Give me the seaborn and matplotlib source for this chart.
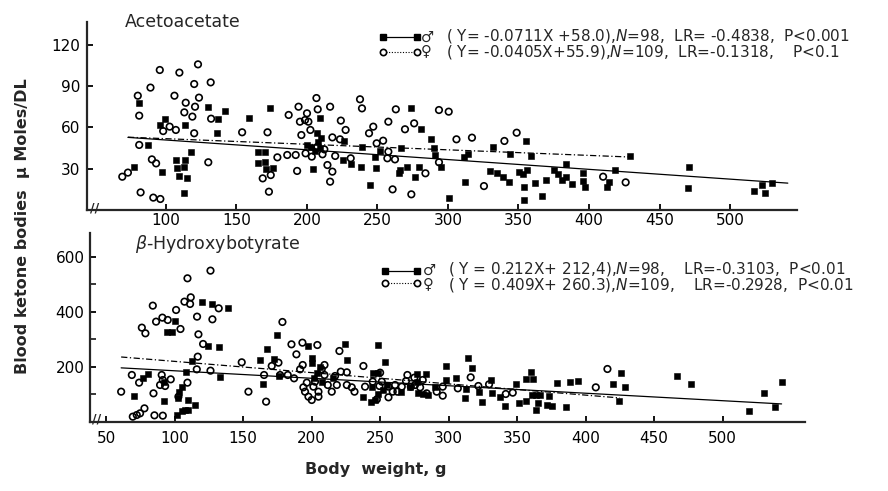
import matplotlib
matplotlib.use("Agg")
import matplotlib.pyplot as plt
import numpy as np
import pandas as pd
import seaborn as sns
from matplotlib.lines import Line2D

# Acetoacetate panel (body weight g, umol/dL)
aa_male_w = [77, 81, 87.5, 97, 96, 99, 107, 108, 113.5, 112.6, 109, 115, 113, 113.5, 118, 130, 137, 136, 142, 159,
             174, 165, 170, 165, 170, 171, 176, 204, 209, 207, 200, 203, 208, 210, 209, 206,
             226.5, 225.7, 231, 239, 238, 245, 252, 248, 249, 266.6, 265, 266, 271, 273.5, 279.6, 276.6, 281, 288,
             290, 291, 295, 301, 312, 311, 314, 332, 330, 334.5, 339, 343, 344, 355, 359, 350.6, 353.4, 356, 354,
             354, 362, 367, 369.5, 375, 378, 381,
             383.5, 384, 388, 396, 396, 397, 412.5, 414, 418.5, 429, 471, 470, 517, 522.5, 525, 530]
aa_male_v = [31.5, 77.6, 47.3, 27.9, 61.8, 66.2, 36.4, 30.8, 36.4, 31.5, 25, 23.5, 12.6, 61.8, 41.9, 74.7, 65.9, 55.8,
             72.2, 67.1, 73.9, 41.9, 41.9, 33.9, 34.7, 29.6, 30.3, 29.6, 67.1, 55.8, 47.3, 46, 49.7, 52.1, 44.8, 43.1,
             50.4, 36.4, 33.2, 46, 31, 18.2, 43.1, 38.3, 30.8, 45.3, 26.7, 29.1, 31, 73.9, 31, 24.2, 59.1, 51.9,
             45.3, 40, 31.5, 9, 20.6, 38.8, 40.5, 45.6, 28.3, 27.2, 24.2, 20.6, 40.7, 50.4, 39.3, 27.9, 26, 29.1, 17,
             7.3, 19.9, 10.4, 21.8, 29.1, 26.2, 21.8,
             33.4, 24.2, 18.9, 26.7, 21.3, 16.9, 16.9, 20.6, 29.1, 39.5, 31, 16.2, 13.8, 18.2, 12.1, 19.4]
aa_female_w = [69, 73, 80, 81, 81, 82, 89, 90, 93, 91, 96, 95.6, 98, 102.6, 107, 106, 109.5, 114, 113, 118.7, 120.6,
               123.4, 120, 122.7, 120, 131.7, 132, 130, 154, 172, 168.6, 174.3, 173, 179, 186, 192, 193, 187, 194,
               196, 195, 198.6, 200, 201, 202.4, 206.7, 207.6, 199, 203.4, 207.4, 211, 214.5, 216.4, 216.4, 212.3,
               224, 227.4, 218, 223.4, 220, 218, 231, 237.6, 239, 247, 244, 249.4, 254, 257.7, 263, 257.7, 257,
               262.4, 260.7, 269.5, 276, 274, 284, 293.6, 300.5, 293.6, 306, 317, 325.5, 340, 348.7, 410, 426]
aa_female_v = [24.2, 27.2, 83.1, 68.6, 47.3, 12.8, 89, 36.8, 33.9, 9, 8, 101.8, 57.4, 60.6, 58.2, 83.1, 99.9, 78, 71,
               67.9, 75.1, 81.7, 91.6, 105.9, 55.8, 92.8, 66.4, 34.7, 56.5, 56.5, 23, 25.4, 13.3, 38.3, 40, 40, 28.4,
               69.1, 75.1, 54.5, 64.2, 65.4, 70.3, 64.2, 58.2, 81.4, 73.2, 41.2, 38.8, 46, 40.5, 32.7, 20.6, 75.1,
               44.1, 65, 58.2, 52.8, 51.4, 39.3, 27.9, 37.6, 80.5, 73.9, 60.6, 55.8, 48.5, 50.4, 64.2, 73.2, 42.4,
               37.6, 36.8, 15, 58.7, 63, 11.4, 26.7, 72.7, 71.5, 34.7, 51.4, 52.6, 17.4, 50.2, 56.2, 24.2, 20.1]

# beta-Hydroxybutyrate panel
hb_male_w = [70.7, 77.3, 80.9, 92.4, 92.6, 94.3, 98.4, 100.4, 105.2, 103.5, 102.3, 101.6, 105.2, 107.7, 110.1, 110.1,
             115, 108.2, 112.5, 120.3, 127.4, 139.3, 124.2, 132.7, 133.2, 162.7, 164.8, 167.5, 175.1, 172.6, 176.3,
             197.7, 200.1, 200.6, 206.2, 203.8, 202.1, 207.4,
             224.4, 226.1, 215.9, 248.8, 253.6, 245.1, 248.1, 243.9, 248.1, 243.2, 246.3, 237.8, 254.8, 252.4, 265.3,
             276.7, 283.6, 276.7, 271.9, 278, 281.6, 285.3, 290.1, 298.1, 298.1, 305.4, 314.4, 317.4, 312.7, 312,
             324.7, 322.5, 331, 331.5, 337.6, 341.2, 349, 351.7, 356.3, 359.9, 356.5, 361.9, 360.7, 363.8, 366.7,
             365.5, 363.8, 371.6, 375.3, 373.6, 379.4,
             388.6, 394.2, 385.5, 419.8, 425.9, 428.8, 424.4, 467, 476.7, 519.5, 530.2, 538.2, 543.6]
hb_male_v = [94.7, 157.8, 172.3, 75.3, 145.6, 327.4, 325, 366.2, 127.4, 109.2, 85, 24.4, 40.2, 42.6, 42.6, 79, 60.8,
             182, 220.8, 434.1, 428.1, 412.3, 275.3, 272.9, 163.8, 224.4, 135.9, 263.2, 315.3, 226.8, 166.2, 275.3,
             230.5, 212.3, 200.2, 175.9, 157.8, 145.6,
             282.6, 224.4, 157.8, 279, 218.4, 178.3, 178.3, 127.4, 100.8, 72.9, 79, 91.1, 133.5, 115.3, 109.2,
             173.5, 173.5, 145.6, 127.4, 103.2, 100.8, 97.1, 127.4, 203.8, 151.7, 157.8, 232.9, 194.1, 117.7, 85,
             70.5, 109.2, 151.7, 103.2, 91.1, 58.4, 135.9, 69.3, 76.5, 182, 154.1, 154.1, 97.1, 97.1, 97.1, 66.8,
             42.6, 60.8, 58.4, 93.5, 142,
             145.6, 148, 54.7, 137.1, 176, 125, 75.3, 166.2, 137.1, 40.2, 105.6, 52.3, 143.2]
hb_female_w = [61, 68.8, 74.1, 76.1, 78.7, 69.5, 72.4, 74.8, 78, 84.1, 86.5, 91.1, 95, 84.6, 90.6, 89.4, 93.1, 97.2,
               91.4, 85.3, 91.4, 101.1, 104.3, 109.4, 107.2, 111.8, 111.3, 102.8, 109.4, 116.4, 117.4, 120.8, 116.9,
               116.2, 126.2, 127.6, 132.2, 126.2, 149, 153.9, 166.8, 165.3, 178.7, 170.9, 175.8, 177, 182.6, 187.2,
               185.3, 188.9, 193.3, 193.5, 204.2, 191.6, 194, 196.5, 195.2, 197.7, 200.1, 201.3, 202.5, 205, 209.4,
               205, 209.4, 211.8, 207.4,
               220.3, 221.3, 225.7, 217.1, 218.4, 214.7, 225.7, 229.3, 231.3, 237.8, 239, 244.6, 249.5, 247.6, 250,
               251.2, 256.1, 256.1, 259.2, 260.9, 262.6, 265.8, 268.9, 269.9, 272.4, 275, 275.5, 279.2, 281.1, 284,
               291.3, 295.7, 295.7, 306.7, 316.1, 321.7, 329.5, 341.7, 346.8, 415.9, 407.4]
hb_female_v = [109.2, 169.9, 142, 342, 321.4, 18.4, 24.4, 30.5, 48.6, 422, 363.8, 378.4, 369.9, 103.2, 169.9, 133.5,
               129.9, 154.1, 151.7, 23.2, 22, 406.2, 337.1, 521.4, 436.5, 452.3, 428.1, 91.1, 142, 382, 317.7, 282.6,
               236.5, 190.5, 549.2, 372.3, 412.3, 185.6, 216, 109.2, 72.9, 169.9, 362.6, 202.6, 214.7, 169.9, 169.9,
               157.8, 281.4, 245, 287.4, 206.2, 278.9, 190.5, 125, 142, 109.2, 91.1, 79, 127.4, 145.6, 109.2, 206.2,
               91.1, 169.9, 133.5, 190.5,
               257.1, 182, 179.6, 166.2, 133.5, 109.2, 133.5, 125, 109.2, 202.6, 127.4, 145.6, 130, 81.4, 178.3,
               145.6, 127.4, 88.7, 109.2, 133.5, 109.2, 127.4, 148, 169.9, 127.4, 160.2, 133.5, 125, 151.7, 103.2,
               109.2, 94.7, 127.4, 121.4, 161.4, 129.9, 135.9, 100.8, 105.6, 191.7, 125]

# regression lines as drawn: slope, intercept, x range (male, female)
aa_slope = [-0.0711, -0.0405]
aa_icpt = [58.0, 55.9]
aa_xrange = [(73, 541), (73, 431)]
hb_slope = [-0.272, -0.409]
hb_icpt = [212.4, 260.3]
hb_xrange = [(61, 543), (61, 425)]

aa_text = ["( Y= -0.0711X +58.0),$\\it{N}$=98,  LR= -0.4838,  P<0.001",
           "( Y= -0.0405X+55.9),$\\it{N}$=109,  LR=-0.1318,    P<0.1"]
hb_text = ["( Y = 0.212X+ 212,4),$\\it{N}$=98,    LR=-0.3103,  P<0.01",
           "( Y = 0.409X+ 260.3),$\\it{N}$=109,    LR=-0.2928,  P<0.01"]

sns.set_theme(style="ticks")
plt.rcParams["font.family"] = ["DejaVu Sans"]
plt.rcParams["mathtext.fontset"] = "dejavusans"

fig = plt.figure(figsize=(8.88, 4.91), dpi=100)
ax1 = fig.add_axes([0.098, 0.5723, 0.7995, 0.3829])
ax2 = fig.add_axes([0.1014, 0.1411, 0.805, 0.3843])


def draw_panel(ax, mw, mv, fw, fv, slopes, icpts, xr):
    male = pd.DataFrame({"w": mw, "v": mv})
    female = pd.DataFrame({"w": fw, "v": fv})
    sns.scatterplot(data=female, x="w", y="v", ax=ax, marker="o", s=22, facecolor="none",
                    edgecolor="black", linewidth=1.2, zorder=3)
    sns.scatterplot(data=male, x="w", y="v", ax=ax, marker="s", s=16, color="black",
                    edgecolor="black", linewidth=0.4, zorder=3)
    styles = ["-", (0, (5, 2, 1, 2))]
    for k in range(2):
        x = np.array(xr[k], dtype=float)
        ax.plot(x, icpts[k] + slopes[k] * x, color="black", lw=0.9, ls=styles[k], zorder=2)
    ax.set_xlabel("")
    ax.set_ylabel("")
    sns.despine(ax=ax)
    for s in ["left", "bottom"]:
        ax.spines[s].set_linewidth(1.6)
    ax.tick_params(direction="in", length=4, width=1.3, labelsize=11, colors="black")
    ax.tick_params(which="minor", direction="in", length=4, width=1.3)


draw_panel(ax1, aa_male_w, aa_male_v, aa_female_w, aa_female_v, aa_slope, aa_icpt, aa_xrange)
ax1.set_xlim(44, 547.5)
ax1.set_ylim(0, 136.7)
ax1.set_xticks(np.arange(100, 501, 50))
ax1.set_yticks([30, 60, 90, 120])
ax1.tick_params(axis="x", pad=2)
ax1.tick_params(axis="y", pad=5)

draw_panel(ax2, hb_male_w, hb_male_v, hb_female_w, hb_female_v, hb_slope, hb_icpt, hb_xrange)
ax2.set_xlim(38.3, 560)
ax2.set_ylim(0, 686)
ax2.set_xticks(np.arange(50, 501, 50))
ax2.set_yticks([200, 400, 600])
ax2.set_yticks([100, 300, 500], minor=True)
ax2.tick_params(axis="x", pad=7)
ax2.tick_params(axis="y", pad=4)

# panel titles
fig.text(0.1408, 0.9552, "Acetoacetate", fontsize=12.5, ha="left", va="center")
fig.text(0.152, 0.503, "$\\beta$-Hydroxybotyrate", fontsize=12.5, ha="left", va="center")

# axis break marks
for bx, by in [(0.107, 0.5764), (0.109, 0.1466)]:
    fig.text(bx, by, "//", fontsize=9, fontweight="bold", ha="center", va="center")


def legend_block(y1, y2, x0, x1, sym_x, text_x, lines):
    fig.add_artist(Line2D([x0, x1], [y1, y1], color="black", lw=0.9, marker="s",
                          markersize=4.5, transform=fig.transFigure))
    fig.add_artist(Line2D([x0, x1], [y2, y2], color="black", lw=0.8, ls=(0, (1, 1.5)), marker="o",
                          markersize=4.5, markerfacecolor="white", markeredgewidth=1.2,
                          transform=fig.transFigure))
    ymid = (y1 + y2) / 2
    fig.text(sym_x, ymid, "\u2642\n\u2640", fontsize=10.5, ha="left", va="center", linespacing=0.85)
    fig.text(text_x, ymid, lines[0] + "\n" + lines[1], fontsize=11, ha="left", va="center",
             linespacing=0.84)


legend_block(0.9246, 0.8951, 0.4313, 0.4696, 0.4740, 0.5023, aa_text)
legend_block(0.4487, 0.4230, 0.4335, 0.4700, 0.4760, 0.5045, hb_text)

fig.text(0.0248, 0.54, "Blood ketone bodies  \u03bc Moles/DL", rotation=90, fontsize=11.5,
         fontweight="bold", ha="center", va="center")
fig.text(0.4234, 0.0428, "Body  weight, g", fontsize=11.5, fontweight="bold", ha="center", va="center")

fig.savefig("out.png", dpi=100, facecolor="white")
